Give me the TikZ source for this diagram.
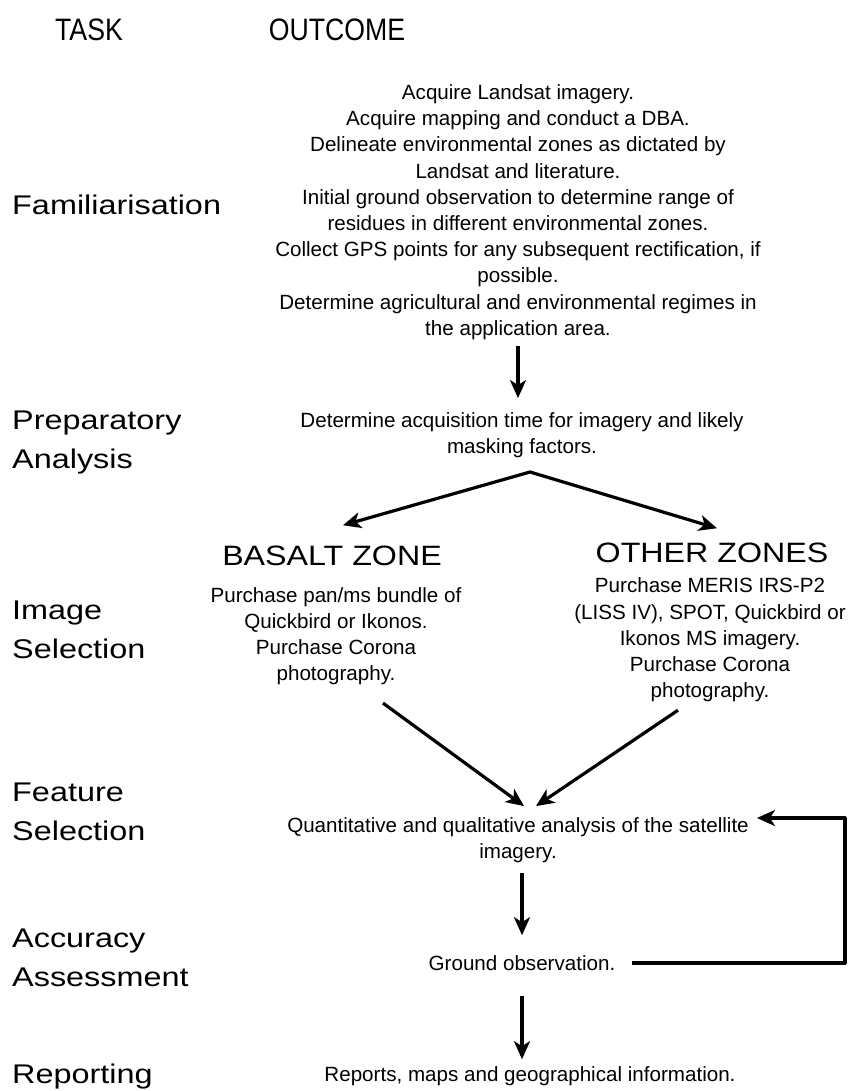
\documentclass[tikz,border=0pt]{standalone}
\usepackage{fontspec}
\setmainfont{Liberation Sans}
\newfontfamily\taskfont[FakeStretch=1.2]{Liberation Sans}
\newfontfamily\zonefont[FakeStretch=1.15]{Liberation Sans}
\newfontfamily\headfont[FakeStretch=0.86]{Liberation Sans}
\usetikzlibrary{arrows.meta,calc,positioning}

\begin{document}
\begin{tikzpicture}[x=1pt,y=-1pt,line join=round,
  outtext/.style={align=center,inner sep=0pt,font=\fontsize{20.6}{26.2}\selectfont},
  tasktext/.style={align=left,anchor=west,inner sep=0pt,font=\taskfont\fontsize{27}{39}\selectfont},
  head/.style={inner sep=0pt,anchor=base,font=\headfont\fontsize{31}{36}\selectfont},
  zone/.style={inner sep=0pt,anchor=base,font=\zonefont\fontsize{28}{32}\selectfont},
  flow/.style={line width=3.2pt,-{Stealth[length=18pt,width=16pt,inset=5pt]}},
  flowboth/.style={line width=3.2pt,{Stealth[length=18pt,width=16pt,inset=5pt]}-{Stealth[length=18pt,width=16pt,inset=5pt]}}]
  \useasboundingbox (0,0) rectangle (863,1091);
  % column heads
  \node[head] (task) at (89,41) {TASK};
  \node[head] (outcome) at (337,41) {OUTCOME};
  % task column
  \node[tasktext] (tfam) at (12,205) {Familiarisation};
  \node[tasktext] (tprep) at (12,443) {Preparatory\\Analysis};
  \node[tasktext] (timg) at (12,630) {Image\\Selection};
  \node[tasktext] (tfeat) at (12,812) {Feature\\Selection};
  \node[tasktext] (tacc) at (12,958) {Accuracy\\Assessment};
  \node[tasktext] (trep) at (12,1077) {Reporting};
  % outcome column
  \node[outtext] (outfam) at (518,212) {Acquire Landsat imagery.\\Acquire mapping and conduct a DBA.\\Delineate environmental zones as dictated by\\Landsat and literature.\\Initial ground observation to determine range of\\residues in different environmental zones.\\Collect GPS points for any subsequent rectification, if\\possible.\\Determine agricultural and environmental regimes in\\the application area.};
  \node[outtext] (outprep) at (522,435) {Determine acquisition time for imagery and likely\\masking factors.};
  \node[zone] (basalt) at (332,565) {BASALT ZONE};
  \node[zone] (other) at (712,562) {OTHER ZONES};
  \node[outtext] (outbas) at (336,636) {Purchase pan/ms bundle of\\Quickbird or Ikonos.\\Purchase Corona\\photography.};
  \node[outtext] (outoth) at (710,640) {Purchase MERIS IRS-P2\\(LISS IV), SPOT, Quickbird or\\Ikonos MS imagery.\\Purchase Corona\\photography.};
  \node[outtext] (outfeat) at (518,840) {Quantitative and qualitative analysis of the satellite\\imagery.};
  \node[outtext] (outgnd) at (522,963) {Ground observation.};
  \node[outtext] (outrep) at (530,1076) {Reports, maps and geographical information.};
  % flow
  \coordinate (fork) at (530,472);
  \coordinate (loopr) at (845,818);
  \draw[flow] ([yshift=-6pt]outfam.south) -- ([yshift=14pt]outfam.south |- outprep.north);
  \draw[flowboth] ([xshift=11pt,yshift=20pt]basalt.north) -- (fork) -- ([xshift=5pt,yshift=14pt]other.north);
  \draw[flow] ([xshift=47pt,yshift=-18pt]outbas.south) -- ([xshift=6pt,yshift=11pt]outfeat.north);
  \draw[flow] ([xshift=-32pt,yshift=-8pt]outoth.south) -- ([xshift=18pt,yshift=11pt]outfeat.north);
  \draw[flow] ([yshift=-10pt]outgnd.north |- outfeat.south) -- ([yshift=20pt]outgnd.north);
  \draw[flow] ([yshift=-25pt]outgnd.south) -- ([yshift=7pt]outgnd.south |- outrep.north);
  \draw[flow] ([xshift=16pt]outgnd.east) -| (loopr) -- ([xshift=8pt]outfeat.east |- loopr);
\end{tikzpicture}
\end{document}
